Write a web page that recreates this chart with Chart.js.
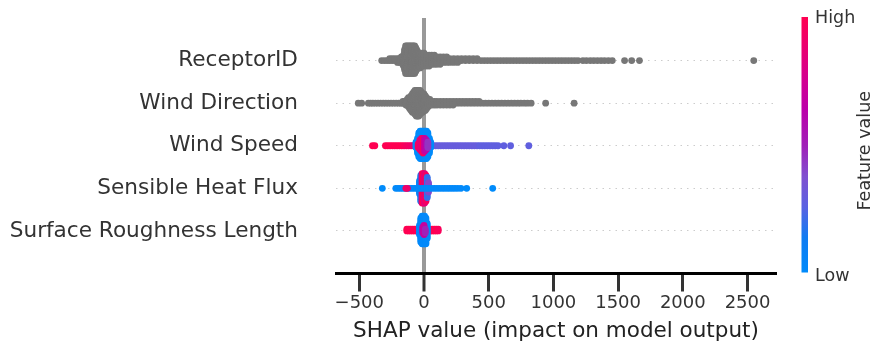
<!DOCTYPE html>
<html>
<head>
<meta charset="utf-8">
<script src="https://cdn.jsdelivr.net/npm/chart.js@4.4.0/dist/chart.umd.min.js"></script>
<style>
  html, body { margin: 0; padding: 0; background: #fff; }
</style>
</head>
<body>
<canvas id="shapChart" width="876" height="352"></canvas>
<script>
// feature names, bottom row first (y = 0 .. 4)
var featureNames = ['Surface Roughness Length', 'Sensible Heat Flux', 'Wind Speed', 'Wind Direction', 'ReceptorID'];
var xTicks = [-500, 0, 500, 1000, 1500, 2000, 2500];

// each entry: [SHAP value, number of stacked points, feature value 0..1 (null = no colour)]
var receptorID = [
  [-327,1,null],[-305,1,null],[-285,1,null],[-265,2,null],[-245,2,null],[-225,2,null],[-205,3,null],[-190,3,null],
  [-175,4,null],[-165,5,null],[-158,7,null],[-150,12,null],[-142,16,null],[-132,16,null],[-122,16,null],[-112,16,null],
  [-102,16,null],[-92,16,null],[-82,16,null],[-72,16,null],[-64,14,null],[-57,12,null],[-50,10,null],[-42,9,null],
  [-30,9,null],[-15,8,null],[0,8,null],[20,7,null],[40,7,null],[60,6,null],[80,6,null],[100,5,null],[125,5,null],
  [150,4,null],[175,4,null],[200,3,null],[230,3,null],[260,3,null],[290,2,null],[320,2,null],[350,2,null],[380,2,null],
  [410,2,null],[440,1,null],[465,1,null],[490,1,null],[515,1,null],[540,1,null],[565,1,null],[590,1,null],[615,1,null],
  [640,1,null],[665,1,null],[690,1,null],[715,1,null],[740,1,null],[765,1,null],[790,1,null],[815,1,null],[840,1,null],
  [865,1,null],[890,1,null],[915,1,null],[940,1,null],[965,1,null],[990,1,null],[1015,1,null],[1040,1,null],[1065,1,null],
  [1090,1,null],[1115,1,null],[1140,1,null],[1165,1,null],[1190,1,null],[1228,1,null],[1255,1,null],[1285,1,null],
  [1312,1,null],[1340,1,null],[1368,1,null],[1395,1,null],[1425,1,null],[1455,1,null],[1550,1,null],[1605,1,null],
  [1665,1,null],[2548,1,null]
];
var windDirection = [
  [-508,1,null],[-482,1,null],[-430,1,null],[-412,1,null],[-395,1,null],[-375,1,null],[-355,1,null],[-335,1,null],
  [-315,1,null],[-295,1,null],[-275,1,null],[-255,1,null],[-235,1,null],[-215,1,null],[-195,1,null],[-178,1,null],
  [-163,2,null],[-150,2,null],[-140,3,null],[-130,4,null],[-120,6,null],[-110,7,null],[-100,9,null],[-90,11,null],
  [-80,12,null],[-70,14,null],[-60,15,null],[-50,15,null],[-40,15,null],[-30,14,null],[-20,12,null],[-10,11,null],
  [0,10,null],[10,9,null],[20,7,null],[32,5,null],[45,4,null],[60,3,null],[80,3,null],[100,3,null],[125,3,null],
  [150,3,null],[175,3,null],[200,3,null],[225,3,null],[250,2,null],[275,2,null],[300,2,null],[325,2,null],[350,2,null],
  [375,2,null],[400,2,null],[425,2,null],[450,1,null],[475,1,null],[500,1,null],[525,1,null],[550,1,null],[575,1,null],
  [600,1,null],[625,1,null],[650,1,null],[675,1,null],[700,1,null],[725,1,null],[748,1,null],[775,1,null],[800,1,null],
  [828,1,null],[940,1,null],[1160,1,null]
];
var windSpeed = [
  [-398,1,1],[-380,1,1],[-298,1,1],[-280,1,1],[-262,1,1],[-244,1,1],[-226,1,1],[-208,1,1],[-190,1,1],[-172,1,1],
  [-154,1,0.97],[-136,1,0.95],[-118,1,0.93],[-100,1,0.92],[-84,1,0.9],[-70,1,0.9],
  [50,1,0.3],[70,1,0.3],[90,1,0.3],[110,1,0.3],[130,1,0.3],[150,1,0.3],[170,1,0.3],[190,1,0.3],[210,1,0.3],
  [230,1,0.3],[250,1,0.3],[270,1,0.3],[290,1,0.3],[310,1,0.3],[330,1,0.3],[350,1,0.3],[370,1,0.3],[390,1,0.3],
  [410,1,0.3],[430,1,0.28],[450,1,0.28],[470,1,0.28],[490,1,0.28],[510,1,0.28],[530,1,0.28],[550,1,0.28],[572,1,0.28],
  [617,1,0.28],[669,1,0.28],[810,1,0.28],
  [-62,4,0],[-50,9,0],[-40,14,0],[-30,16,0],[-20,16,0],[-10,16,0],[0,16,0],[10,16,0],[20,16,0],[30,14,0],[42,9,0],[52,4,0],
  [-45,3,0.95],[-32,6,0.9],[-20,8,0.85],[-8,9,0.95],[5,8,0.7],[18,6,0.6],[30,4,0.45]
];
var sensibleHeatFlux = [
  [-35,8,0.05],[-25,15,0.1],[-15,17,0.9],[-5,17,1],[5,17,0.85],[15,15,0.95],[25,12,0.2],[35,6,0.4],
  [-322,1,0],[-218,1,0.02],[-200,1,0.02],[-182,1,0.02],[-164,1,0.02],[-146,1,0.02],[-128,1,0.02],[-110,1,0.02],
  [-92,1,0.02],[-74,1,0.02],[-56,1,0.02],[-38,1,0.02],[-20,1,0.02],[0,1,0.02],[20,1,0.02],[40,1,0.02],[60,1,0.02],
  [80,1,0.02],[100,1,0.02],[120,1,0.02],[140,1,0.02],[160,1,0.02],[180,1,0.02],[200,1,0.02],[220,1,0.02],[240,1,0.02],
  [262,1,0.02],[286,1,0.02],[330,1,0],[531,1,0],
  [-140,1,0.95],[-128,1,0.9]
];
var surfaceRoughness = [
  [-133,2,1],[-118,2,1],[-103,2,1],[-88,2,1],[-73,2,1],[-58,2,1],[-43,2,1],[35,2,1],[50,2,1],[65,2,1],[80,2,1],
  [95,2,1],[110,2,0.97],
  [-35,6,0.02],[-25,14,0.02],[-15,16,0.02],[-5,16,0.02],[5,16,0.02],[15,15,0.02],[25,9,0.02],
  [-10,4,0.6],[0,6,0.7],[10,3,0.5]
];
var featureRows = [surfaceRoughness, sensibleHeatFlux, windSpeed, windDirection, receptorID];

var layerStep = 0.043;   // vertical step between stacked points, in row units
var cmapStops = [
  [0, [0, 139, 251]], [0.14, [15, 124, 242]], [0.26, [90, 98, 226]], [0.38, [128, 80, 208]],
  [0.5, [160, 32, 184]], [0.64, [187, 0, 170]], [0.77, [213, 0, 142]], [1, [255, 0, 82]]
];

function featureColor(f) {
  if (f === null) return '#777777';
  for (var i = 1; i < cmapStops.length; i++) {
    if (f <= cmapStops[i][0]) {
      var a = cmapStops[i - 1], b = cmapStops[i];
      var t = (f - a[0]) / (b[0] - a[0]);
      var c = a[1].map(function (v, j) { return Math.round(v + (b[1][j] - v) * t); });
      return 'rgb(' + c.join(',') + ')';
    }
  }
  return 'rgb(255,0,82)';
}

var datasets = featureRows.map(function (rows, rowIndex) {
  var pts = [], cols = [];
  rows.forEach(function (r) {
    for (var k = 0; k < r[1]; k++) {
      var off = Math.ceil(k / 2) * (k % 2 ? 1 : -1) * layerStep;
      pts.push({ x: r[0], y: rowIndex + off });
      cols.push(featureColor(r[2]));
    }
  });
  return {
    label: featureNames[rowIndex],
    data: pts,
    pointBackgroundColor: cols,
    pointBorderWidth: 0,
    pointRadius: 3.4,
    pointHoverRadius: 3.4
  };
});

var colorBar = {
  id: 'colorBar',
  afterDraw: function (chart) {
    var ctx = chart.ctx, area = chart.chartArea;
    var x = area.right + 25.5, w = 6.5;
    var g = ctx.createLinearGradient(0, area.bottom, 0, area.top);
    cmapStops.forEach(function (s) { g.addColorStop(s[0], 'rgb(' + s[1].join(',') + ')'); });
    ctx.save();
    ctx.fillStyle = g;
    ctx.fillRect(x, area.top - 1, w, area.bottom - area.top);
    ctx.fillStyle = '#333333';
    ctx.font = '17.5px "DejaVu Sans"';
    ctx.textAlign = 'left';
    ctx.textBaseline = 'alphabetic';
    ctx.fillText('High', x + w + 7, area.top + 5);
    ctx.fillText('Low', x + w + 7, area.bottom + 7);
    ctx.font = '17.5px "DejaVu Sans"';
    ctx.translate(x + 68, (area.top + area.bottom) / 2 + 5);
    ctx.rotate(-Math.PI / 2);
    ctx.textAlign = 'center';
    ctx.fillText('Feature value', 0, 0);
    ctx.restore();
  }
};

new Chart(document.getElementById('shapChart'), {
  type: 'scatter',
  data: { datasets: datasets },
  options: {
    responsive: false,
    animation: false,
    events: [],
    layout: { padding: { top: 18, right: 100, left: 0, bottom: 0 } },
    plugins: { legend: { display: false }, tooltip: { enabled: false } },
    scales: {
      x: {
        type: 'linear',
        min: -680,
        max: 2720,
        afterBuildTicks: function (s) { s.ticks = xTicks.map(function (v) { return { value: v }; }); },
        afterFit: function (s) { s.height = 78.5; },
        ticks: {
          color: '#333333',
          font: { family: 'DejaVu Sans', size: 18 },
          padding: 1,
          maxRotation: 0,
          callback: function (v) { return v < 0 ? '\u2212' + Math.abs(v) : '' + v; }
        },
        grid: {
          color: function (c) { return c.tick && c.tick.value === 0 ? '#999999' : 'rgba(0,0,0,0)'; },
          lineWidth: function (c) { return c.tick && c.tick.value === 0 ? 4 : 1; },
          drawTicks: true,
          tickLength: 18,
          tickColor: '#333333',
          tickWidth: 3
        },
        border: { display: true, color: '#000000', width: 3 },
        title: {
          display: true,
          text: 'SHAP value (impact on model output)',
          color: '#222222',
          font: { family: 'DejaVu Sans', size: 21.5 },
          padding: { top: 0, bottom: 8 }
        }
      },
      y: {
        type: 'linear',
        min: -1,
        max: 5,
        afterBuildTicks: function (s) { s.ticks = [0, 1, 2, 3, 4].map(function (v) { return { value: v }; }); },
        afterFit: function (s) { s.width = 336; },
        ticks: {
          color: '#333333',
          font: { family: 'DejaVu Sans', size: 21.6 },
          padding: 0,
          callback: function (v) { return featureNames[v]; }
        },
        grid: { color: '#cccccc', lineWidth: 1, drawTicks: true, tickLength: 38, tickColor: 'rgba(0,0,0,0)' },
        border: { display: false, dash: [1.5, 5] }
      }
    }
  },
  plugins: [colorBar]
});
</script>
</body>
</html>
